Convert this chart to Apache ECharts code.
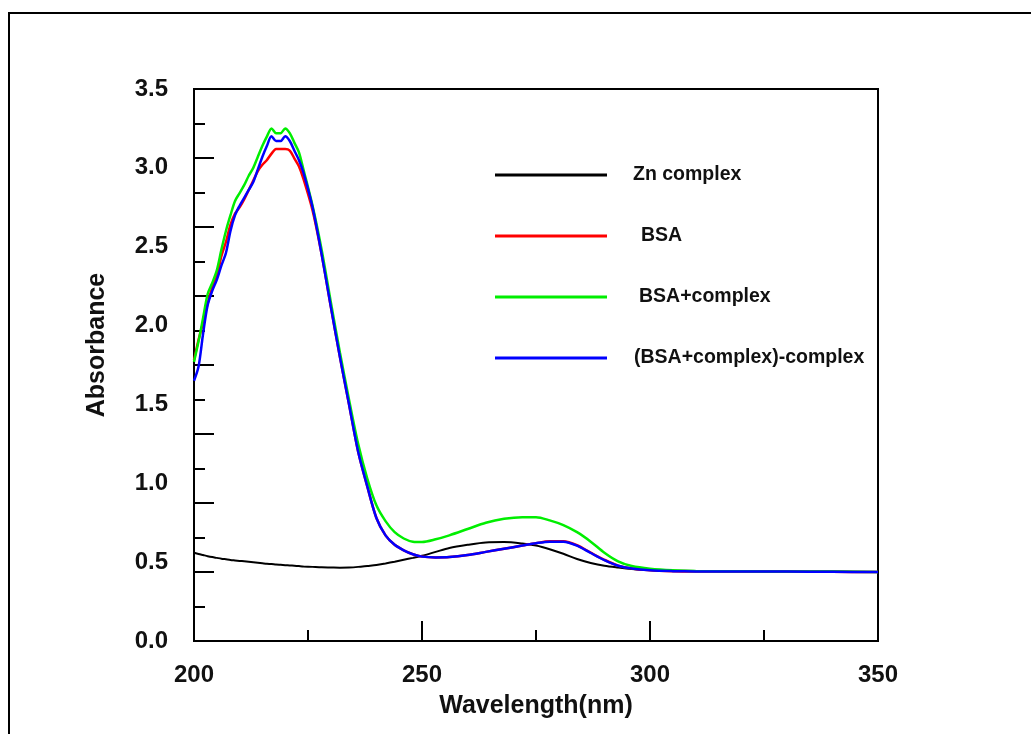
<!DOCTYPE html>
<html>
<head>
<meta charset="utf-8">
<script src="https://cdn.jsdelivr.net/npm/echarts@6/dist/echarts.min.js"></script>
<style>
  html, body { margin: 0; padding: 0; background: #fff; }
  #chart { width: 1031px; height: 734px; }
</style>
</head>
<body>
<div id="chart"></div>
<script>
// ---- Data ----
const wavelengths = [200,201,202,203,204,205,206,207,208,209,210,211,212,213,214,215,216,217,218,219,220,221,222,223,224,226,228,230,232,234,236,238,240,242,244,246,248,250,253,256,260,264,268,272,275,278,281,284,287,290,293,296,300,305,310,320,330,340,350];

const znComplex = [0.56,0.552,0.545,0.538,0.532,0.527,0.522,0.518,0.514,0.511,0.508,0.505,0.502,0.499,0.496,0.493,0.49,0.488,0.485,0.483,0.481,0.479,0.477,0.475,0.473,0.47,0.467,0.466,0.465,0.466,0.47,0.476,0.482,0.492,0.503,0.515,0.527,0.54,0.565,0.59,0.61,0.625,0.627,0.618,0.605,0.582,0.553,0.52,0.495,0.477,0.466,0.457,0.45,0.446,0.444,0.442,0.441,0.44,0.438];

const bsa = [1.78,1.91,2.02,2.14,2.24,2.31,2.44,2.53,2.64,2.71,2.75,2.80,2.86,2.92,2.98,3.02,3.05,3.09,3.12,3.12,3.12,3.11,3.06,3.01,2.93,2.73,2.45,2.12,1.80,1.50,1.20,0.98,0.78,0.67,0.61,0.575,0.55,0.535,0.53,0.532,0.545,0.565,0.585,0.605,0.62,0.632,0.632,0.607,0.56,0.515,0.478,0.46,0.449,0.443,0.441,0.44,0.44,0.439,0.437];

const bsaComplex = [1.77,1.90,2.05,2.20,2.27,2.35,2.48,2.60,2.70,2.79,2.84,2.89,2.95,3.00,3.07,3.14,3.20,3.25,3.22,3.22,3.25,3.22,3.16,3.10,2.99,2.76,2.48,2.15,1.83,1.53,1.25,1.03,0.86,0.76,0.69,0.65,0.63,0.628,0.645,0.67,0.71,0.75,0.775,0.785,0.785,0.765,0.735,0.69,0.63,0.56,0.505,0.475,0.458,0.448,0.444,0.442,0.441,0.44,0.438];

const difference = [1.65,1.74,1.95,2.13,2.22,2.29,2.38,2.46,2.60,2.70,2.76,2.81,2.86,2.91,2.99,3.07,3.14,3.20,3.17,3.17,3.20,3.17,3.11,3.05,2.97,2.75,2.45,2.12,1.80,1.50,1.20,0.98,0.78,0.67,0.61,0.575,0.55,0.535,0.53,0.532,0.545,0.565,0.585,0.605,0.62,0.63,0.63,0.605,0.558,0.513,0.477,0.459,0.448,0.443,0.441,0.44,0.44,0.439,0.437];

const seriesNames = ['Zn complex', 'BSA', 'BSA+complex', '(BSA+complex)-complex'];
const seriesValues = [znComplex, bsa, bsaComplex, difference];
const seriesColors = ['#000000', '#ff0000', '#00ee00', '#0000ff'];
const seriesWidths = [2, 2.5, 2.5, 2.5];
const legendIndent = [21, 29, 27, 22];

const xTicks = [200, 250, 300, 350];
const yLabels = [0, 0.5, 1.0, 1.5, 2.0, 2.5, 3.0, 3.5];

// ---- Chart ----
const FONT = '"Liberation Sans", Arial, Helvetica, sans-serif';
const chart = echarts.init(document.getElementById('chart'), null, { renderer: 'canvas' });

const series = seriesNames.map((name, i) => ({
  name: name,
  type: 'line',
  xAxisIndex: 0,
  yAxisIndex: 0,
  data: wavelengths.map((w, k) => [w, seriesValues[i][k]]),
  showSymbol: false,
  symbol: 'none',
  smooth: 0.3,
  lineStyle: { color: seriesColors[i], width: seriesWidths[i] },
  itemStyle: { color: seriesColors[i] },
  z: 2 + i
}));

const rich = {};
seriesNames.forEach((n, i) => {
  rich['n' + i] = { padding: [0, 0, 0, legendIndent[i]], fontSize: 19.5, fontWeight: 'bold', fontFamily: FONT, color: '#111', lineHeight: 20 };
});

chart.setOption({
  animation: false,
  backgroundColor: '#ffffff',
  textStyle: { fontFamily: FONT },
  graphic: [
    {
      type: 'polyline',
      shape: { points: [[9, 734], [9, 13], [1031, 13]] },
      style: { stroke: '#000', lineWidth: 2, fill: null },
      silent: true
    }
  ],
  grid: {
    left: 194, right: 153, top: 89, bottom: 93,
    show: true, borderColor: '#000', borderWidth: 2, backgroundColor: 'transparent'
  },
  legend: {
    data: seriesNames,
    orient: 'vertical',
    left: 495,
    top: 165,
    itemWidth: 112,
    itemHeight: 3,
    itemGap: 41,
    icon: 'rect',
    padding: 0,
    formatter: function (name) {
      const i = seriesNames.indexOf(name);
      return '{n' + i + '|' + name + '}';
    },
    textStyle: { fontSize: 19.5, fontWeight: 'bold', fontFamily: FONT, color: '#111', lineHeight: 20, rich: rich }
  },
  xAxis: [{
    type: 'value',
    min: xTicks[0],
    max: xTicks[xTicks.length - 1],
    interval: 50,
    name: 'Wavelength(nm)',
    nameLocation: 'middle',
    nameGap: 53,
    nameTextStyle: { fontSize: 25, fontWeight: 'bold', fontFamily: FONT, color: '#111' },
    axisLine: { show: true, lineStyle: { color: '#000', width: 2 } },
    axisTick: { show: true, inside: true, length: 20, lineStyle: { color: '#000', width: 2 } },
    minorTick: { show: true, splitNumber: 2, length: 11, lineStyle: { color: '#000', width: 2 } },
    axisLabel: { margin: 22, fontSize: 24, fontWeight: 'bold', fontFamily: FONT, color: '#111' },
    splitLine: { show: false }
  }],
  yAxis: [
    {
      type: 'value',
      min: 0,
      max: 3.5,
      interval: 0.5,
      position: 'left',
      name: 'Absorbance',
      nameLocation: 'middle',
      nameGap: 84,
      nameRotate: 90,
      nameTextStyle: { fontSize: 25, fontWeight: 'bold', fontFamily: FONT, color: '#111', padding: [0, 0, 0, 40] },
      axisLine: { show: true, lineStyle: { color: '#000', width: 2 } },
      axisTick: { show: false },
      axisLabel: {
        margin: 26, fontSize: 24, fontWeight: 'bold', fontFamily: FONT, color: '#111',
        formatter: function (v) { return v.toFixed(1); }
      },
      splitLine: { show: false }
    },
    {
      type: 'value',
      min: 0,
      max: 3.5,
      interval: 0.4375,
      position: 'left',
      offset: 0,
      axisLine: { show: false },
      axisTick: { show: true, inside: true, length: 20, lineStyle: { color: '#000', width: 2 } },
      minorTick: { show: true, splitNumber: 2, length: 11, lineStyle: { color: '#000', width: 2 } },
      axisLabel: { show: false },
      splitLine: { show: false }
    }
  ],
  series: series
});
</script>
</body>
</html>
